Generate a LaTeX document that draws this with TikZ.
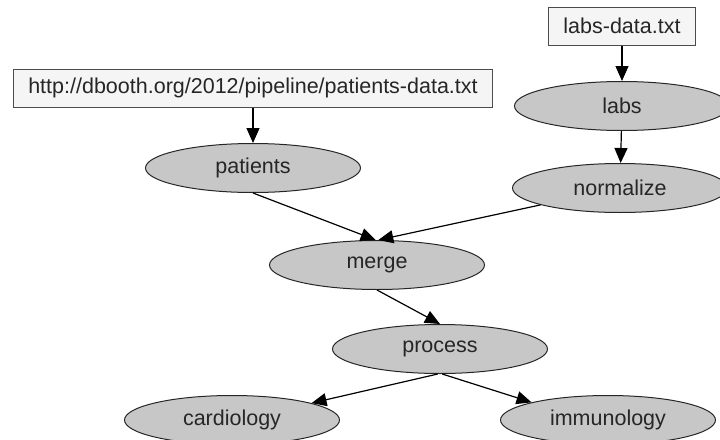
\documentclass[tikz,border=0pt]{standalone}
\usepackage{fontspec}
\setmainfont{Liberation Sans}
\usetikzlibrary{shapes.geometric, arrows.meta}
\tikzset{
    filebox/.style={draw=black!70, fill=black!4, line width=1pt, minimum height=38pt, inner xsep=15pt, inner ysep=0pt},
    stepnode/.style={draw=black!85, fill=black!22, ellipse, line width=1pt, minimum width=215pt, minimum height=49pt, inner sep=0pt},
}

\begin{document}
\begin{tikzpicture}[
    x=1pt, y=-1pt,
    >={Triangle[length=15pt, width=13pt]}, line width=1.2pt,
    every node/.style={font=\fontsize{21.5}{24}\selectfont, text=black!85},
]
\useasboundingbox (0,0) rectangle (720,439);
\node[filebox] (labsdata) at (622,26) {labs-data.txt};
\node[filebox] (patientsdata) at (253,88) {http://dbooth.org/2012/pipeline/patients-data.txt};
\node[stepnode] (labs) at (622,106) {labs};
\node[stepnode] (patients) at (253,168) {patients};
\node[stepnode] (normalize) at (620,188) {normalize};
\node[stepnode] (merge) at (377,265) {merge};
\node[stepnode] (process) at (440,349) {process};
\node[stepnode] (cardiology) at (232,420) {cardiology};
\node[stepnode] (immunology) at (608,420) {immunology};
\draw[->] (labsdata) -- (labs);
\draw[->] (labs) -- (normalize);
\draw[->] (patientsdata) -- (patients);
\draw[->] (patients.south) -- (merge.93);
\draw[->] (normalize.192) -- (merge.87);
\draw[->] (merge.south) -- (process.north);
\draw[->] (process.265) -- (cardiology.12);
\draw[->] (process.275) -- (immunology.167);
\end{tikzpicture}
\end{document}
